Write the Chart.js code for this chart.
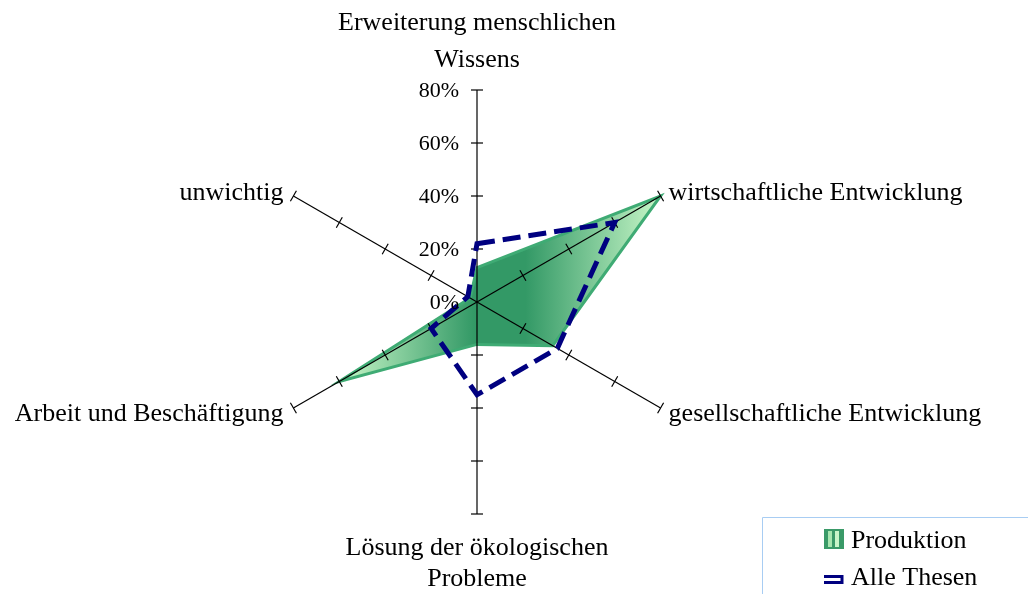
<!DOCTYPE html>
<html>
<head>
<meta charset="utf-8">
<script src="https://cdn.jsdelivr.net/npm/chart.js@4.4.1/dist/chart.umd.min.js"></script>
<style>
  html, body { margin: 0; padding: 0; background: #fff; }
  #wrap { position: relative; width: 1028px; height: 594px; }
</style>
</head>
<body>
<div id="wrap"><canvas id="radar" width="1028" height="594"></canvas></div>
<script>
const categories = [
    ['Erweiterung menschlichen', 'Wissens'],
    ['wirtschaftliche Entwicklung'],
    ['gesellschaftliche Entwicklung'],
    ['Lösung der ökologischen', 'Probleme'],
    ['Arbeit und Beschäftigung'],
    ['unwichtig']
];
const produktion = [13, 80, 33, 16, 60, 3];
const alleThesen = [22, 60, 35, 35, 20, 4];
const tickValues = [0, 20, 40, 60, 80];
const tickLabels = ['0%', '20%', '40%', '60%', '80%'];
const seriesNames = ['Produktion', 'Alle Thesen'];

const serif = '"Liberation Serif", "Times New Roman", serif';

// horizontal gradient: light at the tips, dark in the middle
function greenFill(context) {
    const chart = context.chart;
    const s = chart.scales.r;
    if (!s || !s.drawingArea) return '#339966';
    const xs = produktion.map((v, i) => s.getPointPositionForValue(i, v).x);
    const g = chart.ctx.createLinearGradient(Math.min(...xs), 0, Math.max(...xs), 0);
    g.addColorStop(0, '#c8f7c8');
    g.addColorStop(0.42, '#339966');
    g.addColorStop(0.58, '#339966');
    g.addColorStop(1, '#c8f7c8');
    return g;
}

// axis lines + tick marks, drawn over the green area but under the dashed line
const axesPlugin = {
    id: 'axes',
    afterDatasetDraw(chart, args) {
        if (args.index !== 0) return;
        const s = chart.scales.r;
        const ctx = chart.ctx;
        ctx.save();
        ctx.strokeStyle = '#000';
        ctx.lineWidth = 1.2;
        for (let i = 0; i < categories.length; i++) {
            const end = s.getPointPositionForValue(i, s.max);
            ctx.beginPath();
            ctx.moveTo(s.xCenter, s.yCenter);
            ctx.lineTo(end.x, end.y);
            ctx.stroke();
            const px = -Math.sin(end.angle), py = Math.cos(end.angle);
            tickValues.forEach(v => {
                if (v === 0) return;
                const p = s.getPointPositionForValue(i, v);
                ctx.beginPath();
                ctx.moveTo(p.x - px * 6, p.y - py * 6);
                ctx.lineTo(p.x + px * 6, p.y + py * 6);
                ctx.stroke();
            });
        }
        ctx.restore();
    }
};

const labelsPlugin = {
    id: 'labels',
    afterDraw(chart) {
        const s = chart.scales.r;
        const ctx = chart.ctx;
        ctx.save();
        ctx.fillStyle = '#000';

        // tick labels on the top axis
        ctx.font = '22px ' + serif;
        ctx.textAlign = 'right';
        ctx.textBaseline = 'middle';
        tickValues.forEach((v, k) => {
            const p = s.getPointPositionForValue(0, v);
            ctx.fillText(tickLabels[k], p.x - 18, p.y + 1);
        });

        // category labels
        ctx.font = '26px ' + serif;
        ctx.textBaseline = 'alphabetic';
        categories.forEach((lines, i) => {
            const end = s.getPointPositionForValue(i, s.max);
            const c = Math.cos(end.angle), sn = Math.sin(end.angle);
            if (Math.abs(c) < 0.01) {
                ctx.textAlign = 'center';
                if (sn < 0) {
                    lines.forEach((t, k) => ctx.fillText(t, end.x, end.y - 23 - (lines.length - 1 - k) * 37));
                } else {
                    lines.forEach((t, k) => ctx.fillText(t, end.x, end.y + 41 + k * 31));
                }
            } else {
                ctx.textAlign = c > 0 ? 'left' : 'right';
                const x = c > 0 ? end.x + 8 : end.x - 10;
                const y = sn < 0 ? end.y + 4 : end.y + 13;
                ctx.fillText(lines[0], x, y);
            }
        });

        // legend
        ctx.strokeStyle = '#a8cdf3';
        ctx.lineWidth = 1;
        ctx.beginPath();
        ctx.moveTo(762.5, 594);
        ctx.lineTo(762.5, 517.5);
        ctx.lineTo(1028, 517.5);
        ctx.stroke();

        ctx.fillStyle = '#3a9a68';
        ctx.fillRect(824, 529, 20, 20);
        ctx.fillStyle = '#a8e6b0';
        ctx.fillRect(828, 531, 4, 16);
        ctx.fillStyle = '#c8f5c8';
        ctx.fillRect(835, 531, 4, 16);

        ctx.strokeStyle = '#000080';
        ctx.lineWidth = 3;
        ctx.beginPath();
        ctx.moveTo(824, 576.5);
        ctx.lineTo(842, 576.5);
        ctx.lineTo(842, 582.5);
        ctx.lineTo(824, 582.5);
        ctx.stroke();

        ctx.fillStyle = '#000';
        ctx.font = '26px ' + serif;
        ctx.textAlign = 'left';
        ctx.textBaseline = 'alphabetic';
        ctx.fillText(seriesNames[0], 851, 548);
        ctx.fillText(seriesNames[1], 851, 585);
        ctx.restore();
    }
};

const chart = new Chart(document.getElementById('radar').getContext('2d'), {
    type: 'radar',
    data: {
        labels: categories,
        datasets: [{
            label: seriesNames[0],
            data: produktion,
            order: 2,
            fill: true,
            backgroundColor: greenFill,
            borderColor: '#3fab74',
            borderWidth: 3,
            borderJoinStyle: 'miter',
            pointRadius: 0
        }, {
            label: seriesNames[1],
            data: alleThesen,
            order: 1,
            fill: false,
            borderColor: '#000080',
            borderWidth: 5,
            borderDash: [18, 8],
            borderJoinStyle: 'miter',
            pointRadius: 0
        }]
    },
    options: {
        responsive: false,
        animation: false,
        devicePixelRatio: 1,
        elements: { line: { tension: 0 } },
        plugins: {
            legend: { display: false },
            tooltip: { enabled: false }
        },
        scales: {
            r: {
                min: 0,
                max: 80,
                ticks: { display: false, stepSize: 20 },
                grid: { display: false },
                angleLines: { display: false },
                pointLabels: { display: false },
                afterFit: (scale) => {
                    scale.xCenter = 477;
                    scale.yCenter = 302;
                    scale.drawingArea = 212;
                }
            }
        }
    },
    plugins: [axesPlugin, labelsPlugin]
});
</script>
</body>
</html>
